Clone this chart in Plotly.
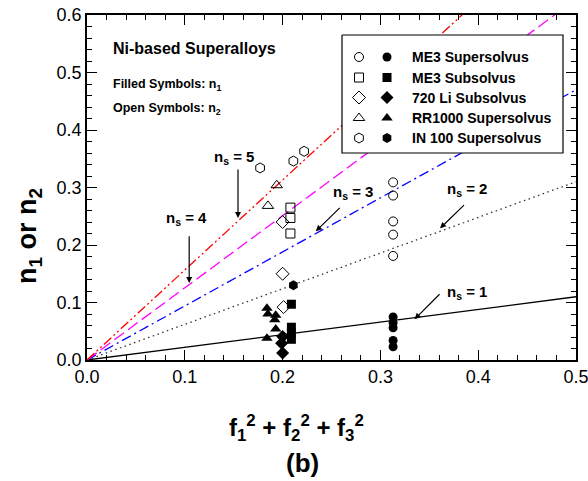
import plotly.graph_objects as go

# ---------------- data ----------------
alloy_names = ["ME3 Supersolvus", "ME3 Subsolvus", "720 Li Subsolvus",
               "RR1000 Supersolvus", "IN 100 Supersolvus"]
alloy_symbols = ["circle", "square", "diamond", "triangle-up", "hexagon"]
alloy_sizes = [9, 9, 10, 10, 10]

# open symbols: n2
n2_x = [
    [0.313, 0.313, 0.313, 0.313, 0.313],
    [0.208, 0.208, 0.208],
    [0.200, 0.200, 0.201],
    [0.194, 0.185],
    [0.177, 0.211, 0.222],
]
n2_y = [
    [0.309, 0.286, 0.241, 0.218, 0.181],
    [0.265, 0.247, 0.220],
    [0.240, 0.150, 0.092],
    [0.304, 0.268],
    [0.334, 0.346, 0.363],
]
# filled symbols: n1
n1_x = [
    [0.313, 0.313, 0.313, 0.313, 0.313],
    [0.209, 0.209, 0.209, 0.209],
    [0.200, 0.199, 0.200],
    [0.184, 0.185, 0.193, 0.192, 0.193, 0.184],
    [0.211],
]
n1_y = [
    [0.075, 0.065, 0.056, 0.034, 0.023],
    [0.097, 0.057, 0.047, 0.036],
    [0.041, 0.029, 0.012],
    [0.090, 0.080, 0.078, 0.070, 0.054, 0.038],
    [0.130],
]

# reference lines n = slope * (f1^2+f2^2+f3^2)
ns_values = [1, 2, 3, 4, 5]
line_slopes = [0.22, 0.62, 0.94, 1.255, 1.565]
line_x = [0.0, 0.5]
line_colors = ["black", "#333333", "#0000FF", "#FF00FF", "#FF0000"]
line_dashes = ["solid", "1.5px,3.5px", "10px,4px,2px,4px", "12px,5px",
               "10px,3px,2px,3px,2px,3px"]

# arrow annotations
arrow_head_x = [0.335, 0.361, 0.234, 0.1045, 0.1544]
arrow_head_y = [0.071, 0.229, 0.224, 0.134, 0.247]
arrow_tail_x = [0.362, 0.387, 0.260, 0.1045, 0.1544]
arrow_tail_y = [0.117, 0.272, 0.267, 0.218, 0.334]
label_x = [0.366, 0.389, 0.2715, 0.1014, 0.1506]
label_y = [0.117, 0.2965, 0.2913, 0.246, 0.352]
label_anchor = ["left", "center", "center", "center", "center"]

x_ticks = [0.0, 0.1, 0.2, 0.3, 0.4, 0.5]
y_ticks = [0.0, 0.1, 0.2, 0.3, 0.4, 0.5, 0.6]

FONT = "Liberation Sans, Arial, sans-serif"

# plot-area pixel frame (for placing free text in paper coordinates)
PL, PR, PT, PB = 87, 576, 15, 360


def px_to_paper(px, py):
    return (px - PL) / (PR - PL), (PB - py) / (PB - PT)


fig = go.Figure()

# lines
for ns, k, c, d in zip(ns_values, line_slopes, line_colors, line_dashes):
    fig.add_trace(go.Scatter(
        x=line_x, y=[k * v for v in line_x], mode="lines",
        line=dict(color=c, width=1.3, dash=d), showlegend=False,
        hoverinfo="skip"))

# data points
for i in range(len(alloy_names)):
    fig.add_trace(go.Scatter(
        x=n2_x[i], y=n2_y[i], mode="markers", showlegend=False,
        marker=dict(symbol=alloy_symbols[i] + "-open", size=alloy_sizes[i],
                    color="black", line=dict(width=1, color="black"))))
    fig.add_trace(go.Scatter(
        x=n1_x[i], y=n1_y[i], mode="markers", showlegend=False,
        marker=dict(symbol=alloy_symbols[i], size=alloy_sizes[i],
                    color="black", line=dict(width=0))))

# ---------- legend box on a hidden pixel overlay ----------
box_left, box_right, box_top, box_bottom = 342, 563, 35, 153
fig.add_trace(go.Scatter(
    x=[box_left, box_right, box_right, box_left, box_left],
    y=[box_top, box_top, box_bottom, box_bottom, box_top],
    mode="lines", fill="toself", fillcolor="white",
    line=dict(color="black", width=1.2), xaxis="x2", yaxis="y2",
    showlegend=False, hoverinfo="skip"))
legend_rows_y = [57, 77.5, 97.5, 118, 138]
for i in range(len(alloy_names)):
    fig.add_trace(go.Scatter(
        x=[359], y=[legend_rows_y[i]], mode="markers", xaxis="x2", yaxis="y2",
        showlegend=False, hoverinfo="skip",
        marker=dict(symbol=alloy_symbols[i] + "-open", size=alloy_sizes[i],
                    color="black", line=dict(width=1, color="black"))))
    fig.add_trace(go.Scatter(
        x=[387], y=[legend_rows_y[i]], mode="markers", xaxis="x2", yaxis="y2",
        showlegend=False, hoverinfo="skip",
        marker=dict(symbol=alloy_symbols[i], size=alloy_sizes[i],
                    color="black", line=dict(width=0))))
    fig.add_annotation(x=410, y=legend_rows_y[i], xref="x2", yref="y2",
                       text="<b>%s</b>" % alloy_names[i], showarrow=False,
                       xanchor="left", yanchor="middle",
                       font=dict(family=FONT, size=14, color="black"))

# arrows and n_s labels
for i, ns in enumerate(ns_values):
    fig.add_annotation(x=arrow_head_x[i], y=arrow_head_y[i],
                       ax=arrow_tail_x[i], ay=arrow_tail_y[i],
                       xref="x", yref="y", axref="x", ayref="y",
                       text="", showarrow=True, arrowhead=2, arrowsize=1,
                       arrowwidth=1.2, arrowcolor="black")
    fig.add_annotation(x=label_x[i], y=label_y[i], xref="x", yref="y",
                       text="<b>n<sub>s</sub> = %d</b>" % ns, showarrow=False,
                       xanchor=label_anchor[i], yanchor="middle",
                       font=dict(family=FONT, size=15, color="black"))


def add_text(px, py, text, size, xanchor="left", angle=0):
    xp, yp = px_to_paper(px, py)
    fig.add_annotation(x=xp, y=yp, xref="paper", yref="paper", showarrow=False,
                       text=text, xanchor=xanchor, yanchor="middle",
                       textangle=angle,
                       font=dict(family=FONT, size=size, color="black"))


# text block top-left
add_text(111, 49, "<b>Ni-based Superalloys</b>", 16)
add_text(111, 85, "<b>Filled Symbols: n<sub>1</sub></b>", 12.5)
add_text(111, 109, "<b>Open Symbols: n<sub>2</sub></b>", 12.5)

# axis titles and panel label
add_text(29, 236, "<b>n<sub>1</sub> or n<sub>2</sub></b>", 27,
         xanchor="center", angle=-90)
add_text(296, 428,
         "<b>f<sub>1</sub><sup>2</sup> + f<sub>2</sub><sup>2</sup> + f<sub>3</sub><sup>2</sup></b>",
         24, xanchor="center")
add_text(302, 463, "<b>(b)</b>", 26, xanchor="center")

axis_common = dict(showgrid=False, zeroline=False, showline=True,
                   linecolor="black", linewidth=1.5, mirror="ticks",
                   ticks="inside", ticklen=10, tickwidth=1.3, tickcolor="black",
                   tickfont=dict(family=FONT, size=18, color="black"),
                   tickformat=".1f", automargin=False,
                   ticklabeloverflow="allow")
fig.update_layout(
    template="none",
    width=588, height=481,
    margin=dict(l=PL, r=588 - PR, t=PT, b=481 - PB),
    paper_bgcolor="white", plot_bgcolor="white",
    showlegend=False,
    xaxis=dict(range=[0, 0.5], tickvals=x_ticks,
               minor=dict(dtick=0.02, ticks="inside", ticklen=5,
                          tickwidth=1.2, tickcolor="black"),
               **axis_common),
    yaxis=dict(range=[0, 0.6], tickvals=y_ticks,
               minor=dict(dtick=0.02, ticks="inside", ticklen=5,
                          tickwidth=1.2, tickcolor="black"),
               **axis_common),
    xaxis2=dict(range=[PL, PR], overlaying="x", anchor="y2", visible=False,
                fixedrange=True, automargin=False),
    yaxis2=dict(range=[PB, PT], overlaying="y", anchor="x2", visible=False,
                fixedrange=True, automargin=False),
)

fig.write_html("out.html",
               config={"displayModeBar": False},
               post_script="document.body.style.margin='0';"
                           "document.body.style.padding='0';")
